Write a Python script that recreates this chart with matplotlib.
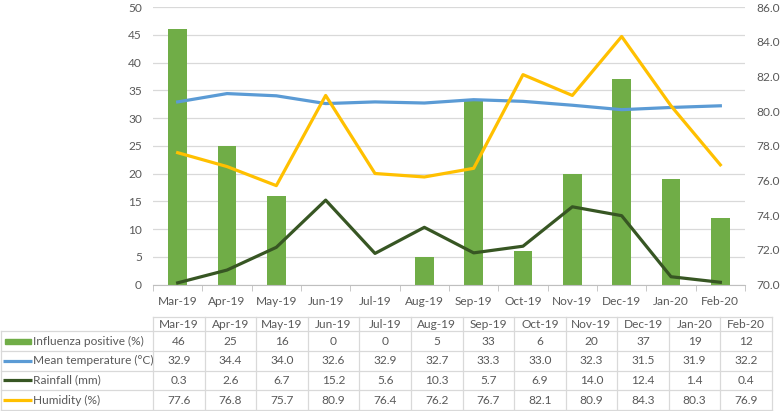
import numpy as np
import matplotlib.pyplot as plt
from matplotlib.patches import Rectangle

plt.rcParams['font.family'] = ['Lato', 'DejaVu Sans']

# Data
months = ['Mar-19', 'Apr-19', 'May-19', 'Jun-19', 'Jul-19', 'Aug-19',
          'Sep-19', 'Oct-19', 'Nov-19', 'Dec-19', 'Jan-20', 'Feb-20']
influenza = [46, 25, 16, 0, 0, 5, 33, 6, 20, 37, 19, 12]
temperature = [32.9, 34.4, 34.0, 32.6, 32.9, 32.7, 33.3, 33.0, 32.3, 31.5, 31.9, 32.2]
rainfall = [0.3, 2.6, 6.7, 15.2, 5.6, 10.3, 5.7, 6.9, 14.0, 12.4, 1.4, 0.4]
humidity = [77.6, 76.8, 75.7, 80.9, 76.4, 76.2, 76.7, 82.1, 80.9, 84.3, 80.3, 76.9]

series_names = ['Influenza positive (%)', 'Mean temperature (°C)', 'Rainfall (mm)', 'Humidity (%)']

GREEN = '#70AD47'
BLUE = '#5B9BD5'
DKGREEN = '#375623'
YELLOW = '#FFC000'
TXT = '#595959'
GRID = '#D9D9D9'
FS = 8.6

W, H = 780, 411
fig = plt.figure(figsize=(W / 100, H / 100), dpi=100)

# main plot area in pixels
px_left, px_right, px_top, px_bottom = 153, 745, 7, 284.5
ax = fig.add_axes([px_left / W, (H - px_bottom) / H,
                   (px_right - px_left) / W, (px_bottom - px_top) / H])
x = np.arange(len(months))
ax.bar(x, influenza, width=0.385, color=GREEN, zorder=2)
ax.plot(x, temperature, color=BLUE, lw=2.3, zorder=3)
ax.plot(x, rainfall, color=DKGREEN, lw=2.3, zorder=3)
ax.set_xlim(-0.5, len(months) - 0.5)
ax.set_ylim(0, 50)
ax.set_yticks(np.arange(0, 51, 5))
ax.grid(axis='y', color=GRID, lw=0.9, zorder=0)
ax.set_axisbelow(True)
ax.set_xticks(x)
ax.set_xticklabels(months)
ax.set_xticks(np.arange(-0.5, len(months)), minor=True)
ax.tick_params(axis='x', which='major', length=0, pad=8, labelsize=FS, labelcolor=TXT)
ax.tick_params(axis='x', which='minor', length=4, color='#BFBFBF')
ax.tick_params(axis='y', length=0, pad=8, labelsize=FS, labelcolor=TXT)
for s in ['top', 'right', 'left']:
    ax.spines[s].set_visible(False)
ax.spines['bottom'].set_color('#BFBFBF')

ax2 = ax.twinx()
ax2.plot(x, humidity, color=YELLOW, lw=2.3, zorder=3)
ax2.set_ylim(70, 86)
ax2.set_yticks(np.arange(70, 86.1, 2))
ax2.set_yticklabels([f'{v:.1f}' for v in np.arange(70, 86.1, 2)])
ax2.tick_params(axis='y', length=0, pad=8, labelsize=FS, labelcolor=TXT)
for s in ax2.spines.values():
    s.set_visible(False)

# data table drawn on an overlay in pixel coordinates
tab = fig.add_axes([0, 0, 1, 1], zorder=5)
tab.set_xlim(0, W)
tab.set_ylim(H, 0)
tab.axis('off')
tab.patch.set_alpha(0)

col_edges = np.linspace(153, 772, len(months) + 1)
row_edges = [317, 331, 351, 370.5, 390, 410]
lc = '#D9D9D9'
# header row lines
tab.plot([col_edges[0], col_edges[-1]], [row_edges[0]] * 2, color=lc, lw=0.9)
for y in row_edges[1:]:
    tab.plot([0.5, col_edges[-1]], [y, y], color=lc, lw=0.9)
for cx in col_edges:
    tab.plot([cx, cx], [row_edges[0], row_edges[-1]], color=lc, lw=0.9)
tab.plot([0.5, 0.5], [row_edges[1], row_edges[-1]], color=lc, lw=0.9)

centers = (col_edges[:-1] + col_edges[1:]) / 2
hy = (row_edges[0] + row_edges[1]) / 2
for cx, m in zip(centers, months):
    tab.text(cx, hy, m, ha='center', va='center', fontsize=FS, color=TXT)

rows = [
    [str(v) for v in influenza],
    [f'{v:.1f}' for v in temperature],
    [f'{v:.1f}' for v in rainfall],
    [f'{v:.1f}' for v in humidity],
]
colors = [GREEN, BLUE, DKGREEN, YELLOW]
for i, (name, vals, c) in enumerate(zip(series_names, rows, colors)):
    ry = (row_edges[i + 1] + row_edges[i + 2]) / 2
    if i == 0:
        tab.add_patch(Rectangle((5, ry - 2.5), 26, 5, color=c))
    else:
        tab.plot([3, 32], [ry, ry], color=c, lw=2.3, solid_capstyle='butt')
    tab.text(33, ry, name, ha='left', va='center', fontsize=FS, color=TXT)
    for cx, v in zip(centers, vals):
        tab.text(cx, ry, v, ha='center', va='center', fontsize=FS, color=TXT)

fig.savefig('out.png', dpi=100)
